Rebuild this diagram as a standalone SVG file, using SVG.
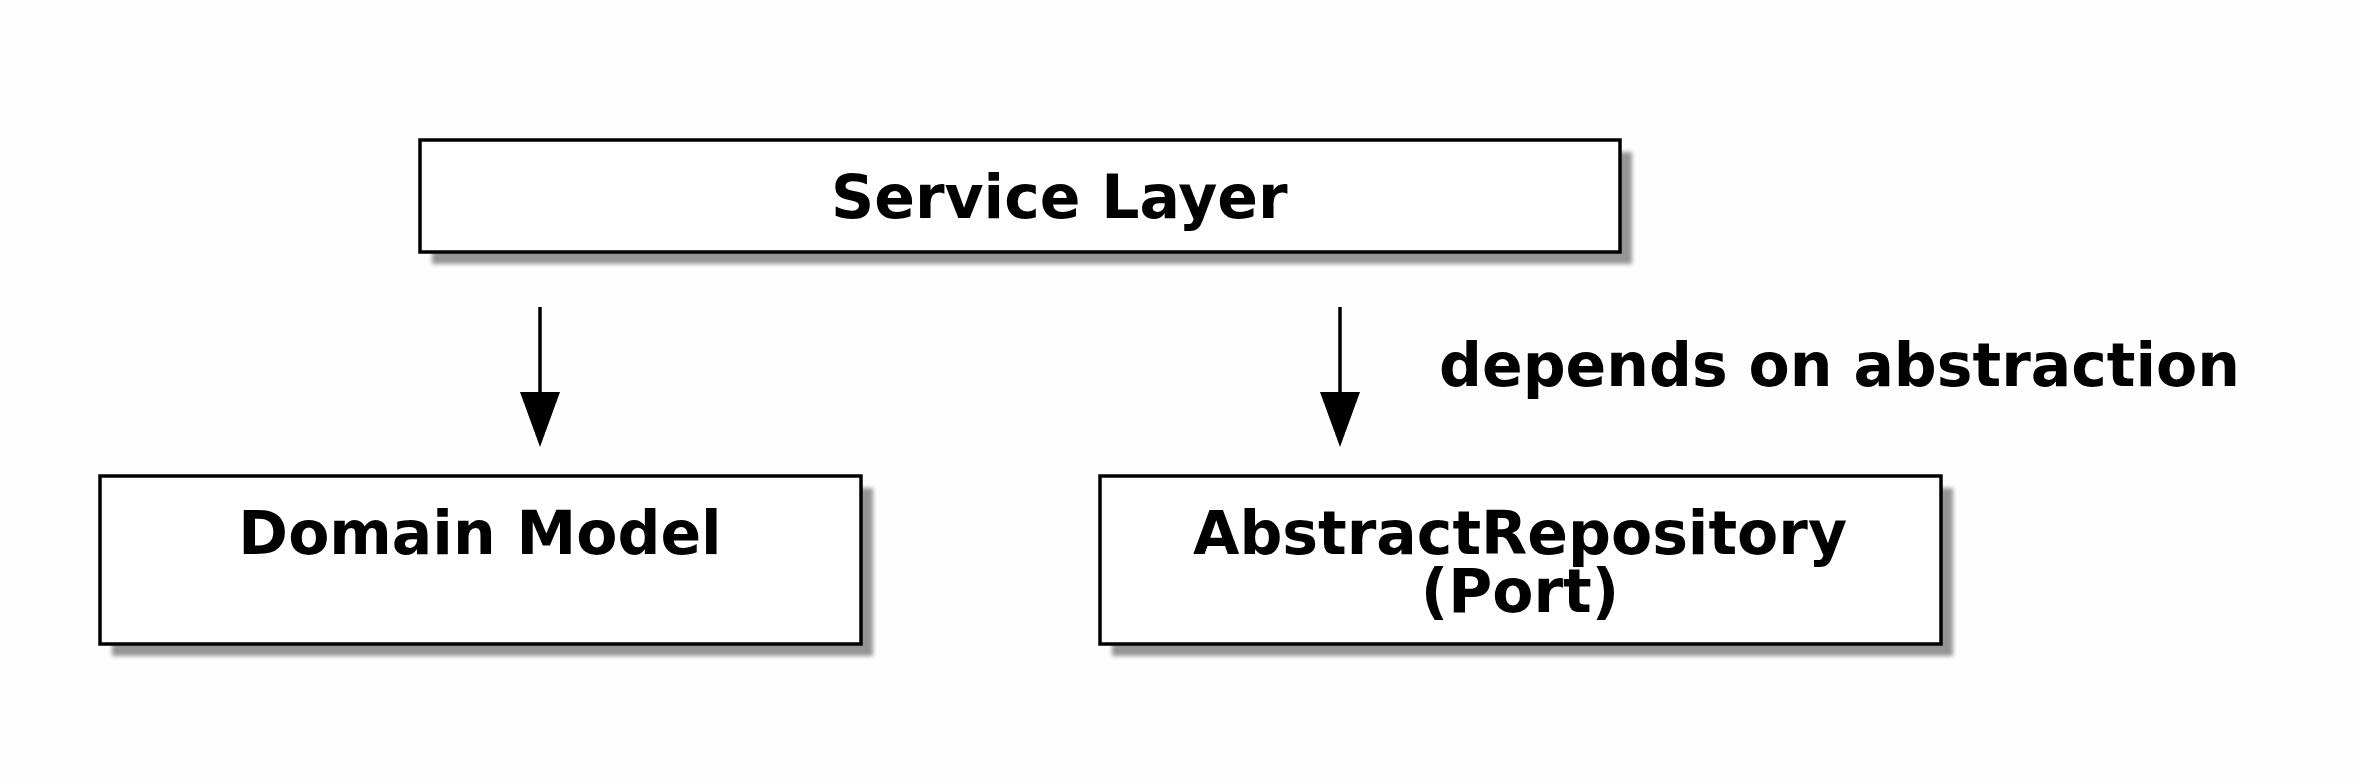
<svg xmlns="http://www.w3.org/2000/svg" width="2360" height="784" viewBox="0 0 2360 784">
<style>
.box{fill:#fff;stroke:#000;stroke-width:3.5}
.shadow{fill:#959595;filter:url(#blur)}
.lbl{font-family:"DejaVu Sans",sans-serif;font-weight:bold;font-size:60px;fill:#000}
.edge{stroke:#000;stroke-width:3.5;fill:none}
</style>
<defs>
<filter id="blur" x="-10%" y="-10%" width="120%" height="130%"><feGaussianBlur stdDeviation="2"/></filter>
</defs>
<rect width="2360" height="784" fill="#fefefe"/>
<g id="service-layer">
<rect class="shadow" x="432" y="152" width="1200" height="112"/>
<rect class="box" x="420" y="140" width="1200" height="112"/>
<text class="lbl" x="831" y="218">Service Layer</text>
</g>
<g id="domain-model">
<rect class="shadow" x="112" y="488" width="761" height="168"/>
<rect class="box" x="100" y="476" width="761" height="168"/>
<text class="lbl" x="480" y="554" text-anchor="middle">Domain Model</text>
</g>
<g id="abstract-repository">
<rect class="shadow" x="1112" y="488" width="841" height="168"/>
<rect class="box" x="1100" y="476" width="841" height="168"/>
<text class="lbl" x="1520" y="554" text-anchor="middle">AbstractRepository</text>
<text class="lbl" x="1520" y="612" text-anchor="middle">(Port)</text>
</g>
<g id="connectors">
<line class="edge" x1="540" y1="307" x2="540" y2="393"/>
<path d="M520,392 L560,392 L540,447 Z" fill="#000"/>
<line class="edge" x1="1340" y1="307" x2="1340" y2="393"/>
<path d="M1320,392 L1360,392 L1340,447 Z" fill="#000"/>
<text class="lbl" x="1439" y="386">depends on abstraction</text>
</g>
</svg>
